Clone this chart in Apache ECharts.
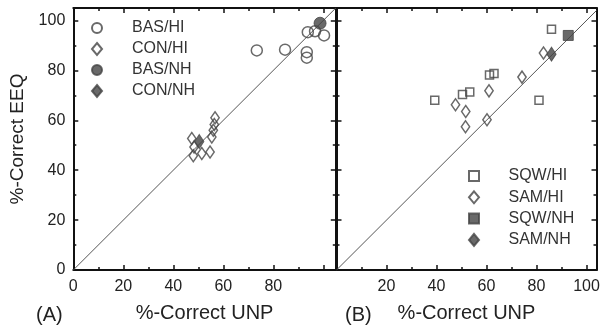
<!DOCTYPE html>
<html>
<head>
<meta charset="utf-8">
<script src="https://cdn.jsdelivr.net/npm/echarts@6/dist/echarts.min.js"></script>
<style>html,body{margin:0;padding:0;background:#fff}#c{width:603px;height:331px}</style>
</head>
<body>
<div id="c"></div>
<script>
// ---- data ----
const xTickLabelsA = ['0','20','40','60','80'];
const xTickLabelsB = ['20','40','60','80','100'];
const yTickLabels = ['0','20','40','60','80','100'];

const basHiX = [73.4, 84.7, 93.4, 93.4, 93.8, 96.7, 100.3];
const basHiY = [88.0, 88.3, 87.3, 85.1, 95.3, 95.7, 94.0];
const conHiX = [56.7, 56.4, 56.0, 55.4, 47.4, 48.3, 48.0, 51.4, 54.7];
const conHiY = [61.0, 58.3, 56.0, 53.3, 52.7, 49.3, 45.8, 46.7, 47.3];
const basNhX = [98.7];
const basNhY = [98.9];
const conNhX = [50.4];
const conNhY = [51.5];

const sqwHiX = [39.3, 50.4, 53.3, 61.2, 63.0, 81.0, 86.0];
const sqwHiY = [68.0, 70.3, 71.3, 78.1, 78.7, 68.0, 96.5];
const samHiX = [47.6, 51.7, 51.6, 61.0, 60.2, 74.2, 82.8];
const samHiY = [66.2, 63.5, 57.4, 71.8, 60.2, 77.3, 87.0];
const sqwNhX = [92.7];
const sqwNhY = [94.0];
const samNhX = [86.0];
const samNhY = [86.5];

const identityA = [0, 105];
const identityB = [0, 104];

const pairs = (xs, ys) => xs.map((x, i) => [x, ys[i]]);

const INK = '#111';
const MARK = '#444';
const FONT = "'Liberation Sans', Arial, sans-serif";
const DIAMOND = 'path://M0,-6L5,0L0,6L-5,0Z';
const SQUARE = 'path://M0,0H10V10H0Z';
const CIRCLE = 'circle';

function mkAxis(gridIndex, position, max, labels) {
  return {
    type: 'value', gridIndex, position, min: 0, max, interval: 20,
    axisLine: { show: true, onZero: false, lineStyle: { color: INK, width: 2 } },
    axisTick: { show: true, inside: true, length: 5, lineStyle: { color: INK, width: 1.5 } },
    minorTick: { show: true, splitNumber: 2, length: 3, lineStyle: { color: INK, width: 1.5 } },
    splitLine: { show: false }, minorSplitLine: { show: false },
    axisLabel: labels ? {
      show: true, fontSize: 16, color: '#222', fontFamily: FONT, margin: 9,
      formatter: v => labels.includes(String(v)) ? String(v) : ''
    } : { show: false }
  };
}

const xA = mkAxis(0, 'bottom', 105, xTickLabelsA);
xA.name = '%-Correct UNP'; xA.nameLocation = 'middle'; xA.nameGap = 33;
xA.nameTextStyle = { fontSize: 20, color: '#222', fontFamily: FONT };
const xB = mkAxis(1, 'bottom', 104, xTickLabelsB);
xB.name = '%-Correct UNP'; xB.nameLocation = 'middle'; xB.nameGap = 33;
xB.nameTextStyle = { fontSize: 20, color: '#222', fontFamily: FONT };
const yA = mkAxis(0, 'left', 105, yTickLabels);
yA.name = '%-Correct EEQ'; yA.nameLocation = 'middle'; yA.nameGap = 46; yA.nameRotate = 90;
yA.nameTextStyle = { fontSize: 19, color: '#222', fontFamily: FONT };
yA.axisLabel.margin = 8;

function scatter(name, data, xi, symbol, size, filled) {
  return {
    name, type: 'scatter', xAxisIndex: xi, yAxisIndex: xi, data,
    symbol, symbolSize: size, symbolKeepAspect: true,
    itemStyle: filled ? { color: MARK, borderColor: MARK, borderWidth: 1 }
                      : { color: 'rgba(255,255,255,0)', borderColor: MARK, borderWidth: 1.5 },
    emphasis: { disabled: true }, z: 5
  };
}

function legendItem(name, icon) { return { name, icon }; }
const legendText = (pad) => ({ fontSize: 16, color: '#333', fontFamily: FONT, lineHeight: 16, padding: [0, 0, 0, pad] });

const option = {
  animation: false,
  backgroundColor: '#fff',
  grid: [
    { left: 73.3, top: 8, width: 262.5, height: 262, containLabel: false },
    { left: 336.5, top: 8, width: 260, height: 262, containLabel: false }
  ],
  xAxis: [xA, mkAxis(0, 'top', 105, null), xB, mkAxis(1, 'top', 104, null)],
  yAxis: [yA, mkAxis(0, 'right', 105, null), mkAxis(1, 'left', 105, null), mkAxis(1, 'right', 105, null)],
  legend: [
    {
      orient: 'vertical', left: 91, top: 20, itemWidth: 10, itemHeight: 13, itemGap: 5,
      padding: 0, selectedMode: false, textStyle: legendText(25),
      data: [legendItem('BAS/HI', CIRCLE), legendItem('CON/HI', DIAMOND),
             legendItem('BAS/NH', CIRCLE), legendItem('CON/NH', DIAMOND)]
    },
    {
      orient: 'vertical', left: 468, top: 168, itemWidth: 10, itemHeight: 13, itemGap: 5.3,
      padding: 0, selectedMode: false, textStyle: legendText(24.5),
      data: [legendItem('SQW/HI', SQUARE), legendItem('SAM/HI', DIAMOND),
             legendItem('SQW/NH', SQUARE), legendItem('SAM/NH', DIAMOND)]
    }
  ],
  graphic: [
    { type: 'text', left: 36, top: 305, style: { text: '(A)', fontSize: 20, fill: '#222', fontFamily: FONT } },
    { type: 'text', left: 345, top: 305, style: { text: '(B)', fontSize: 20, fill: '#222', fontFamily: FONT } }
  ],
  series: [
    { type: 'line', xAxisIndex: 0, yAxisIndex: 0, data: [[identityA[0], identityA[0]], [identityA[1], identityA[1]]],
      symbol: 'none', lineStyle: { color: '#555', width: 1 }, z: 2, silent: true },
    { type: 'line', xAxisIndex: 2, yAxisIndex: 2, data: [[identityB[0], identityB[0]], [identityB[1], identityB[1]]],
      symbol: 'none', lineStyle: { color: '#555', width: 1 }, z: 2, silent: true },
    scatter('BAS/HI', pairs(basHiX, basHiY), 0, CIRCLE, 11, false),
    scatter('CON/HI', pairs(conHiX, conHiY), 0, DIAMOND, [10, 12], false),
    scatter('BAS/NH', pairs(basNhX, basNhY), 0, CIRCLE, 12, true),
    scatter('CON/NH', pairs(conNhX, conNhY), 0, DIAMOND, [11, 14], true),
    scatter('SQW/HI', pairs(sqwHiX, sqwHiY), 2, SQUARE, 8, false),
    scatter('SAM/HI', pairs(samHiX, samHiY), 2, DIAMOND, [10, 12], false),
    scatter('SQW/NH', pairs(sqwNhX, sqwNhY), 2, SQUARE, 10, true),
    scatter('SAM/NH', pairs(samNhX, samNhY), 2, DIAMOND, [11, 14], true)
  ]
};

const chart = echarts.init(document.getElementById('c'), null, { renderer: 'canvas' });
chart.setOption(option);
</script>
</body>
</html>
